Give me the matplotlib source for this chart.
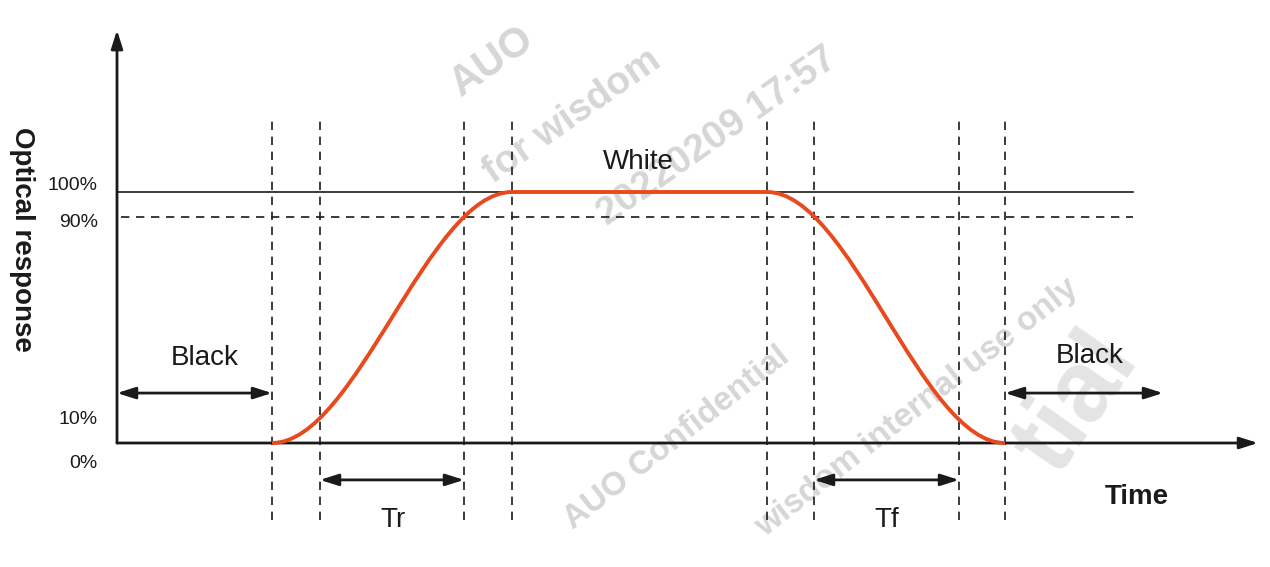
import matplotlib.pyplot as plt
from matplotlib.path import Path
from matplotlib.patches import PathPatch

plt.rcParams['font.family'] = ['Liberation Sans', 'DejaVu Sans']

# key instants of the response (arbitrary time units from the origin)
t_start_rise = 155
t_rise_10 = 203
t_rise_90 = 347
t_end_rise = 395
t_start_fall = 650
t_fall_90 = 697
t_fall_10 = 842
t_end_fall = 888
t_ref_end = 1016
t_black_end = 1046
t_axis_end = 1141

# response levels (%)
levels = [0, 10, 90, 100]
level_labels = ["0%", "10%", "90%", "100%"]
label_levels = [-8, 9.5, 88, 102.5]

marker_times = [t_start_rise, t_rise_10, t_rise_90, t_end_rise,
                t_start_fall, t_fall_90, t_fall_10, t_end_fall]

ink = '#1a1a1a'
red = '#e8491d'

fig = plt.figure(figsize=(12.7, 5.67), dpi=100)
ax = fig.add_axes([0, 0, 1, 1])
ax.set_xlim(-117, 1153)
ax.set_ylim(-49.4, 176.5)
ax.axis('off')

# faint watermark
wm = dict(color='#d6d6d6', fontweight='bold', zorder=0, ha='center', va='center')
ax.text(375, 152, "AUO", rotation=35, fontsize=30, **wm)
ax.text(455, 130, "for wisdom", rotation=35, fontsize=28, **wm)
ax.text(600, 122, "20220209 17:57", rotation=35, fontsize=28, **wm)
ax.text(560, 2, "AUO Confidential", rotation=38, fontsize=24, **wm)
ax.text(800, 14, "wisdom internal use only", rotation=38, fontsize=24, **wm)
ax.text(960, 16, "tial", rotation=55, fontsize=72, color='#e4e4e4', zorder=0,
        ha='center', va='center', fontweight='bold')

# axes with arrow heads
ax.annotate('', xy=(t_axis_end, 0), xytext=(0, 0),
            arrowprops=dict(arrowstyle='-|>,head_length=1.1,head_width=0.35', color=ink, lw=2, shrinkA=0, shrinkB=0))
ax.annotate('', xy=(0, 164.5), xytext=(0, 0),
            arrowprops=dict(arrowstyle='-|>,head_length=1.1,head_width=0.35', color=ink, lw=2, shrinkA=0, shrinkB=0))

# reference levels
ax.plot([0, t_ref_end], [100, 100], color=ink, lw=1.2)
ax.plot([4, t_ref_end], [90, 90], color=ink, lw=1.2, dashes=(5, 4))

# vertical markers
for t in marker_times:
    ax.plot([t, t], [-30.7, 129.5], color=ink, lw=1.2, dashes=(5, 4))

# level labels
for lab, y in zip(level_labels, label_levels):
    ax.text(-19, y, lab, ha='right', va='center', fontsize=14, color=ink)

# response curve: one smooth S for the rise and one for the fall
rise_span = t_end_rise - t_start_rise
fall_span = t_end_fall - t_start_fall
k = 0.35
verts = [
    (t_start_rise, levels[0]),
    (t_start_rise + k * rise_span, levels[0]),
    (t_end_rise - k * rise_span, levels[3]),
    (t_end_rise, levels[3]),
    (t_start_fall, levels[3]),
    (t_start_fall + k * fall_span, levels[3]),
    (t_end_fall - k * fall_span, levels[0]),
    (t_end_fall, levels[0]),
]
codes = [Path.MOVETO, Path.CURVE4, Path.CURVE4, Path.CURVE4,
         Path.LINETO, Path.CURVE4, Path.CURVE4, Path.CURVE4]
ax.add_patch(PathPatch(Path(verts, codes), fill=False, edgecolor=red, lw=2.8, zorder=3))

# double arrows
def span(x0, x1, y):
    ax.annotate('', xy=(x1, y), xytext=(x0, y),
                arrowprops=dict(arrowstyle='<|-|>,head_length=1.1,head_width=0.35', color=ink, lw=2, shrinkA=0, shrinkB=0))

span(0, t_start_rise, 19.9)
span(t_end_fall, t_black_end, 19.9)
span(t_rise_10, t_rise_90, -14.7)
span(t_fall_90, t_fall_10, -14.7)

# text labels
ax.text(88, 34, "Black", ha='center', va='center', fontsize=20, color=ink)
ax.text(973, 34.5, "Black", ha='center', va='center', fontsize=20, color=ink)
ax.text(521, 112, "White", ha='center', va='center', fontsize=20, color=ink)
ax.text(276, -30.7, "Tr", ha='center', va='center', fontsize=20, color=ink)
ax.text(770, -30.7, "Tf", ha='center', va='center', fontsize=20, color=ink)
ax.text(1020, -21.5, "Time", ha='center', va='center', fontsize=20, fontweight='bold', color=ink)
ax.text(-95, 81, "Optical response", ha='center', va='center', rotation=-90,
        fontsize=20, fontweight='bold', color=ink)

fig.savefig('out.png', dpi=100)
